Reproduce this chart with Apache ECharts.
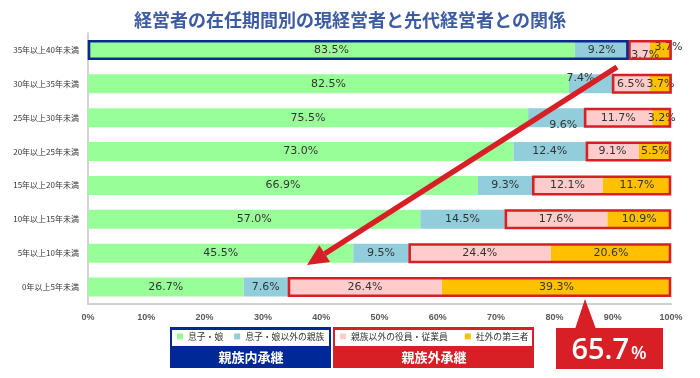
<!DOCTYPE html>
<html><head><meta charset="utf-8">
<script src="https://cdn.jsdelivr.net/npm/echarts@6/dist/echarts.min.js"></script>
<style>html,body{margin:0;padding:0;background:#fff}#c{width:700px;height:378px}</style>
</head><body><div id="c"></div>
<script>
const categories = ['35年以上40年未満','30年以上35年未満','25年以上30年未満','20年以上25年未満','15年以上20年未満','10年以上15年未満','5年以上10年未満','0年以上5年未満'];
const seriesNames = ['息子・娘','息子・娘以外の親族','親族以外の役員・従業員','社外の第三者'];
const childValues = [83.5, 82.5, 75.5, 73.0, 66.9, 57.0, 45.5, 26.7];
const relativeValues = [9.2, 7.4, 9.6, 12.4, 9.3, 14.5, 9.5, 7.6];
const employeeValues = [3.7, 6.5, 11.7, 9.1, 12.1, 17.6, 24.4, 26.4];
const outsiderValues = [3.7, 3.7, 3.2, 5.5, 11.7, 10.9, 20.6, 39.3];
const xTicks = [0,10,20,30,40,50,60,70,80,90,100];
const calloutValue = '65.7';
const highlightFamilyRow = 0;

const colors = ['#98fe98','#92cddc','#ffcccc','#ffc000'];
const labelNudges = {'0-2':[6,5],'0-3':[8,-3],'1-1':[-10,-6],'2-1':[7,7]};
const allValues = [childValues, relativeValues, employeeValues, outsiderValues];
const BAR_W = 19;

const barSeries = seriesNames.map((name, s) => ({
  name, type: 'bar', stack: 'total', barWidth: BAR_W,
  itemStyle: {color: colors[s]},
  data: allValues[s].map((v, r) => {
    const nud = labelNudges[r + '-' + s];
    const item = {value: v};
    if (nud) item.label = {offset: nud};
    return item;
  }),
  label: {show: true, position: 'inside', color: '#333', fontSize: 11,
    fontFamily: 'DejaVu Sans', formatter: p => p.value.toFixed(1) + '%'}
}));

const outsideBoxes = categories.map((c, r) => {
  const a = childValues[r] + relativeValues[r];
  return [r, a, a + employeeValues[r] + outsiderValues[r], 'out'];
});
const familyBoxes = [[highlightFamilyRow, 0, childValues[highlightFamilyRow] + relativeValues[highlightFamilyRow], 'fam']];

const borderSeries = {
  type: 'custom', z: 5, silent: true,
  data: outsideBoxes.concat(familyBoxes),
  encode: {x: [1, 2], y: 0},
  renderItem: (params, api) => {
    const s = api.coord([api.value(1), api.value(0)]);
    const e = api.coord([api.value(2), api.value(0)]);
    const fam = outsideBoxes.length <= params.dataIndex;
    const h = BAR_W - 1.5;
    return {type: 'rect',
      shape: {x: s[0] + 1, y: s[1] - h / 2, width: e[0] - s[0] - 2, height: h},
      style: {fill: 'none', stroke: fam ? '#0a2a8e' : '#d71f25', lineWidth: 2.6}};
  }
};

// arrow geometry
const tip = [307, 265], tail = [617, 67];
const dx = tip[0] - tail[0], dy = tip[1] - tail[1], L = Math.hypot(dx, dy);
const ux = dx / L, uy = dy / L, hl = 21, hw = 10;
const base = [tip[0] - hl * ux, tip[1] - hl * uy];

const legendText = {fontSize: 8.8, color: '#333', fontFamily: 'Noto Sans CJK JP'};
const chart = echarts.init(document.getElementById('c'), null, {renderer: 'canvas'});
chart.setOption({
  animation: false,
  title: {text: '経営者の在任期間別の現経営者と先代経営者との関係', left: 'center', top: 6,
    textStyle: {fontSize: 18, fontWeight: 'bold', color: '#3b5ba2', fontFamily: 'Noto Sans CJK JP'}},
  grid: {left: 88, right: 29, top: 33, bottom: 74},
  xAxis: {type: 'value', min: 0, max: 100, interval: 10,
    axisLine: {show: true, lineStyle: {color: '#d0d0d0', width: 2}},
    axisTick: {show: false}, splitLine: {show: false},
    axisLabel: {formatter: '{value}%', color: '#595959', fontSize: 9, fontWeight: 'bold',
      fontFamily: 'Liberation Sans', margin: 9}},
  yAxis: {type: 'category', data: categories, inverse: true,
    axisLine: {show: true, lineStyle: {color: '#c4c4c4', width: 1.5}},
    axisTick: {show: false},
    axisLabel: {fontSize: 8, color: '#333', margin: 9, fontFamily: 'Noto Sans CJK JP'}},
  legend: [
    {data: seriesNames.slice(0, 2), left: 177, top: 332, padding: 0, itemWidth: 6, itemHeight: 6, itemGap: 11,
      icon: 'rect', selectedMode: false, textStyle: legendText},
    {data: seriesNames.slice(2), left: 340, top: 332, padding: 0, itemWidth: 6, itemHeight: 6, itemGap: 17,
      icon: 'rect', selectedMode: false, textStyle: legendText}
  ],
  graphic: [
    {type: 'rect', z: -1, shape: {x: 170, y: 327, width: 161, height: 41}, style: {fill: '#002896'}},
    {type: 'rect', z: 0, shape: {x: 172, y: 330, width: 157, height: 16}, style: {fill: '#fff'}},
    {type: 'text', z: 1, x: 251, y: 357, style: {text: '親族内承継', fill: '#fff', font: 'bold 13px "Noto Sans CJK JP"', textAlign: 'center', textVerticalAlign: 'middle'}},
    {type: 'rect', z: -1, shape: {x: 333, y: 327, width: 201, height: 41}, style: {fill: '#d71f25'}},
    {type: 'rect', z: 0, shape: {x: 335, y: 330, width: 197, height: 16}, style: {fill: '#fff'}},
    {type: 'text', z: 1, x: 434, y: 357, style: {text: '親族外承継', fill: '#fff', font: 'bold 13px "Noto Sans CJK JP"', textAlign: 'center', textVerticalAlign: 'middle'}},
    {type: 'polygon', z: 10, shape: {points: [[575, 329], [596, 329], [585, 299]]}, style: {fill: '#d71f25'}},
    {type: 'rect', z: 10, shape: {x: 556, y: 328, width: 107, height: 41}, style: {fill: '#d71f25'}},
    {type: 'text', z: 11, x: 609, y: 351, style: {
      text: '{a|' + calloutValue + '}{b|%}', textAlign: 'center', textVerticalAlign: 'middle',
      rich: {a: {fontSize: 29, fontWeight: 600, fontFamily: 'Open Sans', fill: '#fff', color: '#fff'},
             b: {fontSize: 18, fontWeight: 600, fontFamily: 'Open Sans', fill: '#fff', color: '#fff', padding: [6, 0, 0, 2]}}}},
    {type: 'line', z: 20, shape: {x1: tail[0], y1: tail[1], x2: base[0], y2: base[1]}, style: {stroke: '#d71f25', lineWidth: 5.5}},
    {type: 'polygon', z: 20, shape: {points: [tip,
      [base[0] + hw * uy, base[1] - hw * ux], [base[0] - hw * uy, base[1] + hw * ux]]}, style: {fill: '#d71f25'}}
  ],
  series: barSeries.concat([borderSeries])
});
</script></body></html>
